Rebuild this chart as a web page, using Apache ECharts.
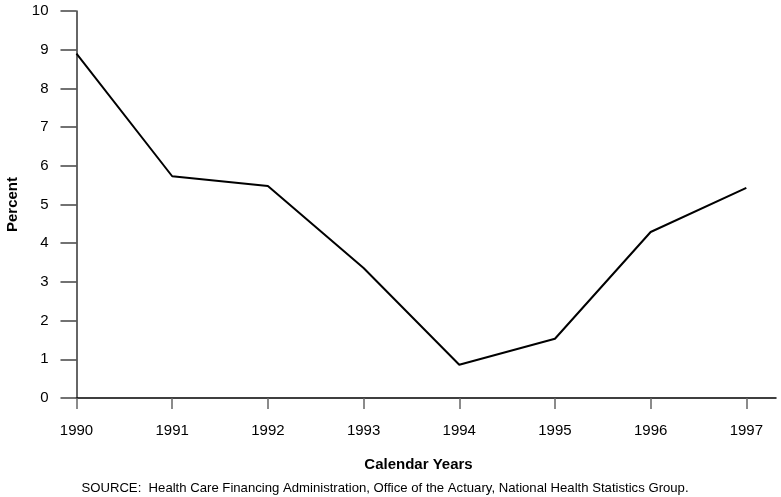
<!DOCTYPE html>
<html>
<head>
<meta charset="utf-8">
<script src="https://cdn.jsdelivr.net/npm/echarts@6/dist/echarts.min.js"></script>
<style>html,body{margin:0;padding:0;background:#fff}#c{width:781px;height:497px}</style>
</head>
<body>
<div id="c"></div>
<script>
var years = [1990, 1991, 1992, 1993, 1994, 1995, 1996, 1997];
var percent = [8.9, 5.73, 5.48, 3.36, 0.86, 1.53, 4.29, 5.43];
var yTicks = [0, 1, 2, 3, 4, 5, 6, 7, 8, 9, 10];

var chart = echarts.init(document.getElementById('c'));
var font = 'Liberation Sans, Arial, sans-serif';
chart.setOption({
  animation: false,
  backgroundColor: '#fff',
  grid: {left: 76.5, right: 5, top: 11, bottom: 99, containLabel: false, outerBoundsMode: 'none'},
  title: [
    {text: 'Calendar Years', left: 413.5, top: 452, textAlign: 'center',
     textStyle: {fontFamily: font, fontSize: 15, fontWeight: 'bold', color: '#000'}},
    {text: 'SOURCE:  Health Care Financing Administration, Office of the Actuary, National Health Statistics Group.',
     left: 380, top: 477, textAlign: 'center',
     textStyle: {fontFamily: font, fontSize: 13.15, fontWeight: 'normal', color: '#000'}}
  ],
  xAxis: {
    type: 'value', min: 1990, max: 1997.31, interval: 1,
    axisLine: {show: true, lineStyle: {color: '#000', width: 1.5}},
    axisTick: {show: true, length: 11, customValues: years, lineStyle: {color: '#666', width: 1.5}},
    axisLabel: {customValues: years, margin: 25, fontFamily: font, fontSize: 15, color: '#000',
      formatter: function (v) { return String(v); }},
    splitLine: {show: false}
  },
  yAxis: {
    type: 'value', min: 0, max: 10, interval: 1,
    name: 'Percent', nameLocation: 'middle', nameRotate: 90, nameGap: 56,
    nameTextStyle: {fontFamily: font, fontSize: 15, fontWeight: 'bold', color: '#000'},
    axisLine: {show: true, lineStyle: {color: '#333', width: 1.5}},
    axisTick: {show: true, length: 16, lineStyle: {color: '#444', width: 1.5}},
    axisLabel: {customValues: yTicks, margin: 28, fontFamily: font, fontSize: 15, color: '#000'},
    splitLine: {show: false}
  },
  series: [{
    type: 'line',
    data: years.map(function (y, i) { return [y, percent[i]]; }),
    showSymbol: false,
    lineStyle: {color: '#000', width: 2},
    itemStyle: {color: '#000'}
  }]
});
</script>
</body>
</html>
